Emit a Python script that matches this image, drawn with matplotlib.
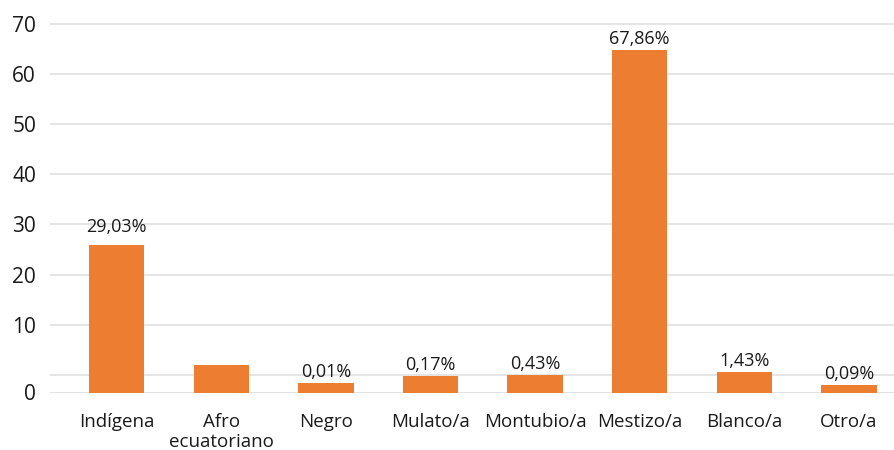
import matplotlib
matplotlib.use("Agg")
import matplotlib.pyplot as plt

categories = ["Indígena", "Afro\necuatoriano", "Negro", "Mulato/a", "Montubio/a",
              "Mestizo/a", "Blanco/a", "Otro/a"]
bar_heights = [29.4, 5.43, 1.96, 3.30, 3.50, 68.4, 4.16, 1.50]
bar_labels = ["29,03%", "", "0,01%", "0,17%", "0,43%", "67,86%", "1,43%", "0,09%"]
tick_labels = ["0", "10", "20", "30", "40", "50", "60", "70"]

# gridline offset of the original chart (its "0" gridline sits above the baseline)
grid_offset = 3.56

plt.rcParams['font.family'] = ['Open Sans', 'DejaVu Sans']

fig = plt.figure(figsize=(8.94, 4.5), dpi=100)
ax = fig.add_axes([50 / 894, 57.5 / 450, 1 - 50 / 894, 1 - 57.5 / 450])

x = list(range(len(categories)))
bars = ax.bar(x, bar_heights, width=0.53, color="#ED7D31", zorder=3)

# gridlines
grid_pos = [grid_offset + 10 * k for k in range(len(tick_labels))]
for g in grid_pos:
    ax.axhline(g, color="#e3e3e3", lw=1.3, zorder=1)
ax.axhline(0, color="#d9d9d9", lw=1.8, zorder=2)

# y tick labels: "0" at the baseline, others on the gridlines
ytick_pos = [0] + grid_pos[1:]
ax.set_yticks(ytick_pos)
ax.set_yticklabels(tick_labels, fontsize=15, color="#1a1a1a")
ax.tick_params(axis="y", length=0, pad=10)

ax.set_xticks(x)
ax.set_xticklabels(categories, fontsize=13.5, color="#1a1a1a", linespacing=1.15)
ax.tick_params(axis="x", length=0, pad=15)

ax.set_xlim(-0.638, 7.431)
ax.set_ylim(0, 78.4)
for s in ax.spines.values():
    s.set_visible(False)

# value labels
for i, (b, lab) in enumerate(zip(bars, bar_labels)):
    if not lab:
        continue
    extra = 5 if i == 0 else 0
    ax.annotate(lab, (b.get_x() + b.get_width() / 2, b.get_height()),
                xytext=(0, 1.5 + extra), textcoords="offset points",
                ha="center", va="bottom", fontsize=13, color="#1a1a1a")

fig.savefig("out.png", dpi=100)
